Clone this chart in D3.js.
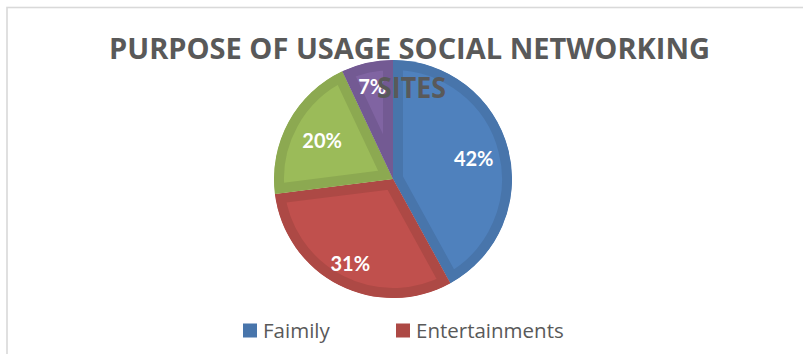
<!DOCTYPE html>
<html>
<head>
<meta charset="utf-8">
<script src="https://cdn.jsdelivr.net/npm/d3@7"></script>
<style>
  html, body { margin: 0; padding: 0; background: #ffffff; }
  svg { display: block; }
</style>
</head>
<body>
<svg id="chart" width="803" height="354"></svg>
<script>
// Purpose of usage of social networking sites (share of respondents, %)
const categories = ["Faimily", "Entertainments", "Education", "Others"];
const values = [42, 31, 20, 7];
const titleLines = ["PURPOSE OF USAGE SOCIAL NETWORKING", "SITES"];
const legendItems = ["Faimily", "Entertainments"];

// styling
const fillColors = ["#4f81bd", "#c0504d", "#9bbb59", "#8064a2"];
const edgeColors = ["#4875ab", "#ad4945", "#8ca951", "#735a93"];
const labelRadius = [0.70, 0.79, 0.68, 0.80]; // best-fit label distance, as fraction of radius

const svg = d3.select("#chart");
const W = 803, H = 354;

// chart area frame (right and bottom edges fall outside the view)
svg.append("rect")
  .attr("x", 7).attr("y", 7.5)
  .attr("width", W + 20).attr("height", H + 20)
  .attr("fill", "#ffffff")
  .attr("stroke", "#d9d9d9").attr("stroke-width", 1.6);

const cx = 393, cy = 179, R = 119, ring = 10;

const pie = d3.pie().sort(null).value(d => d);
const arcs = pie(values);
const arc = d3.arc().innerRadius(0).outerRadius(R);

const defs = svg.append("defs");
const slices = svg.append("g");

// each slice: light fill with a darker inner band, the stroke clipped to the slice
arcs.forEach((a, i) => {
  defs.append("clipPath").attr("id", "clip" + i)
    .append("path")
    .attr("transform", `translate(${cx},${cy})`)
    .attr("d", arc(a));
  slices.append("g").attr("clip-path", `url(#clip${i})`)
    .append("path")
    .attr("transform", `translate(${cx},${cy})`)
    .attr("d", arc(a))
    .attr("fill", fillColors[i])
    .attr("stroke", edgeColors[i])
    .attr("stroke-width", ring * 2)
    .attr("stroke-linejoin", "miter");
});

// percentage labels
svg.append("g").selectAll("text")
  .data(arcs)
  .join("text")
  .each(function(d, i) {
    const r = R * labelRadius[i];
    const p = d3.arc().innerRadius(r).outerRadius(r).centroid(d);
    d3.select(this).attr("x", cx + p[0]).attr("y", cy + p[1]);
  })
  .attr("text-anchor", "middle")
  .attr("dominant-baseline", "central")
  .attr("font-family", "Lato, 'Open Sans', sans-serif")
  .attr("font-weight", "bold")
  .attr("font-size", 20)
  .attr("fill", "#ffffff")
  .text(d => d.data + "%");

// title (drawn over the pie)
const title = svg.append("g")
  .attr("font-family", "'Open Sans', sans-serif")
  .attr("font-weight", "bold")
  .attr("font-size", 28)
  .attr("fill", "#595959");
title.append("text")
  .attr("x", 109).attr("y", 58.5)
  .attr("textLength", 601).attr("lengthAdjust", "spacingAndGlyphs")
  .text(titleLines[0]);
title.append("text")
  .attr("x", 377).attr("y", 98)
  .attr("textLength", 69).attr("lengthAdjust", "spacingAndGlyphs")
  .text(titleLines[1]);

// legend
const legendX = [243, 396];
const lg = svg.append("g");
legendItems.forEach((name, i) => {
  lg.append("rect")
    .attr("x", legendX[i]).attr("y", 323.5)
    .attr("width", 14).attr("height", 14)
    .attr("fill", edgeColors[i]);
  lg.append("text")
    .attr("x", legendX[i] + 20).attr("y", 338)
    .attr("font-family", "'Open Sans', sans-serif")
    .attr("font-size", 20.5)
    .attr("fill", "#595959")
    .text(name);
});
</script>
</body>
</html>
